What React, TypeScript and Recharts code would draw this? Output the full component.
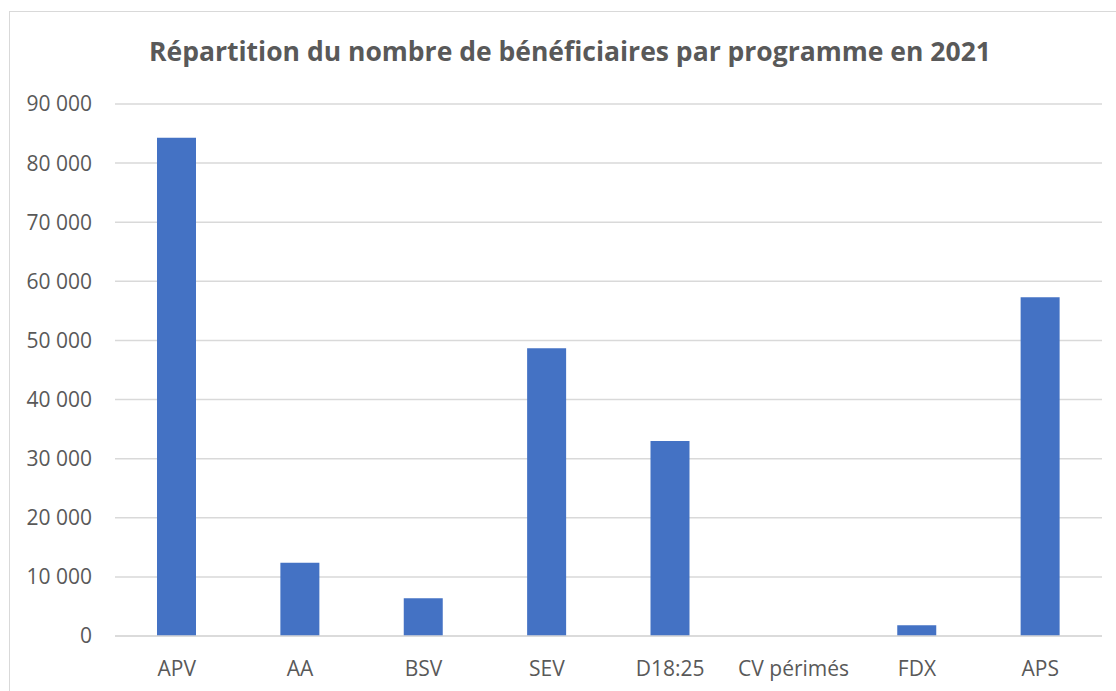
import React from "react";
import { BarChart, Bar, XAxis, YAxis, CartesianGrid } from "recharts";

const programmes = ["APV", "AA", "BSV", "SEV", "D18:25", "CV périmés", "FDX", "APS"];
const beneficiaires = [84300, 12400, 6400, 48700, 33000, 0, 1800, 57300];
const yTicks = [0, 10000, 20000, 30000, 40000, 50000, 60000, 70000, 80000, 90000];

const chartData = programmes.map((p, i) => ({ name: p, value: beneficiaires[i] }));

const GRID = "#d9d9d9";
const TEXT = "#595959";
const FONT = "'Open Sans', sans-serif";

function formatThousands(v: number): string {
  return String(v).replace(/\B(?=(\d{3})+(?!\d))/g, " ");
}

export default function App() {
  return (
    <div
      style={{
        position: "absolute",
        left: 0,
        top: 0,
        width: 1116,
        height: 691,
        overflow: "hidden",
        background: "#fff",
        fontFamily: FONT,
      }}
    >
      <div
        style={{
          position: "absolute",
          left: 9,
          top: 11,
          width: 1130,
          height: 700,
          border: `1px solid ${GRID}`,
          boxSizing: "border-box",
        }}
      />
      <div
        style={{
          position: "absolute",
          left: 0,
          top: 38,
          width: 1140,
          textAlign: "center",
          fontSize: 26.5,
          lineHeight: "26px",
          fontWeight: 700,
          color: TEXT,
          whiteSpace: "nowrap",
        }}
      >
        Répartition du nombre de bénéficiaires par programme en 2021
      </div>
      <div style={{ position: "absolute", left: 0, top: 0 }}>
        <BarChart
          width={1116}
          height={691}
          data={chartData}
          margin={{ top: 104, right: 14, bottom: 5, left: 0 }}
          barSize={39}
        >
          <CartesianGrid vertical={false} stroke={GRID} strokeWidth={1.5} />
          <XAxis
            dataKey="name"
            axisLine={{ stroke: GRID, strokeWidth: 1.5 }}
            tickLine={false}
            tickSize={0}
            tickMargin={25}
            height={50}
            interval={0}
            tick={{ fontSize: 21, fill: TEXT, fontFamily: FONT }}
          />
          <YAxis
            domain={[0, 90000]}
            ticks={yTicks}
            width={115}
            axisLine={false}
            tickLine={false}
            tickSize={0}
            tickMargin={23}
            tickFormatter={formatThousands}
            tick={{ fontSize: 21, fill: TEXT, fontFamily: FONT }}
          />
          <Bar dataKey="value" fill="#4472C4" isAnimationActive={false} />
        </BarChart>
      </div>
    </div>
  );
}
